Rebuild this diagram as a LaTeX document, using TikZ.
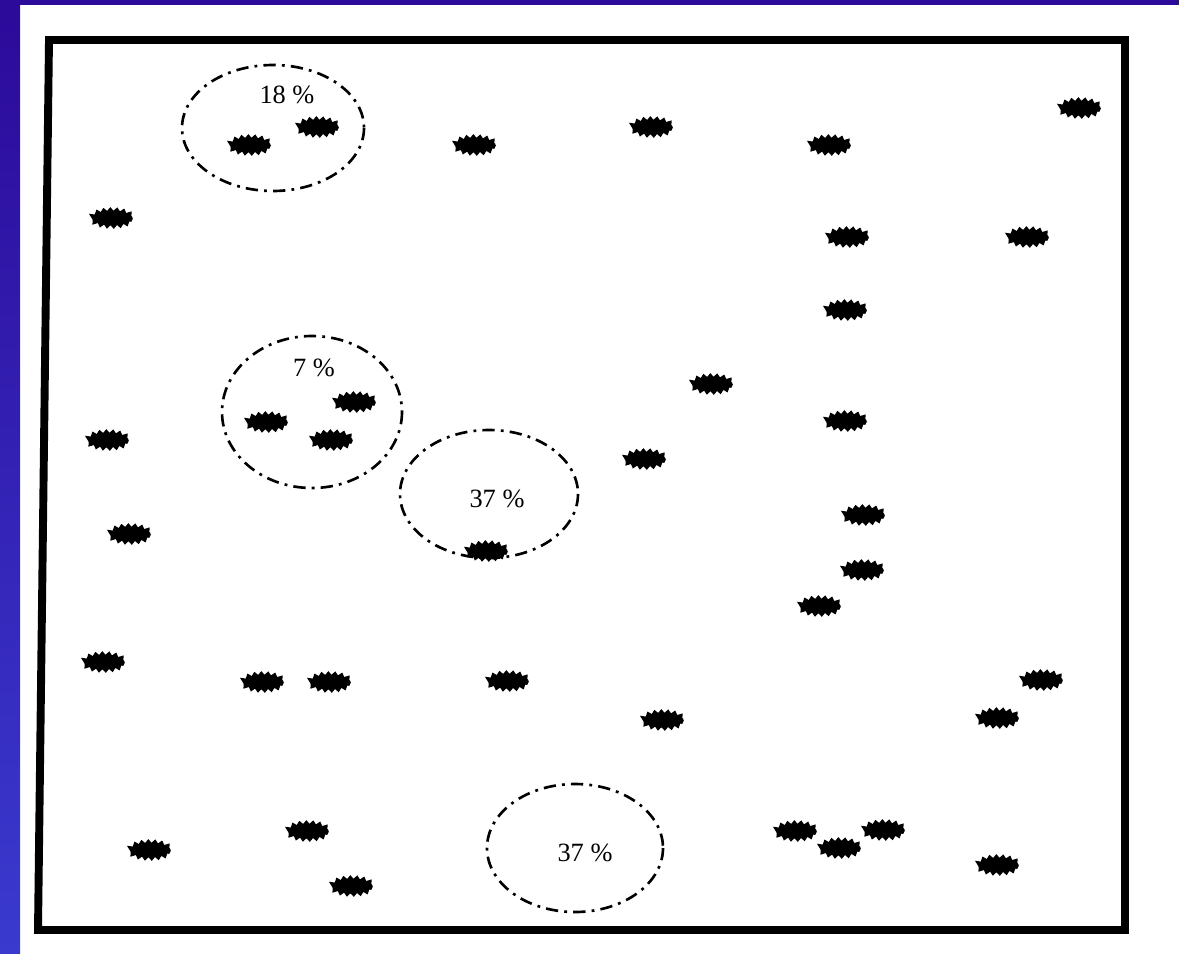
\documentclass[tikz,border=0pt]{standalone}
\usepackage{fontspec}
\setmainfont{Liberation Serif}
\usetikzlibrary{shapes.geometric, decorations.pathmorphing}
\definecolor{bTop}{HTML}{2C0A9A}
\definecolor{bBot}{HTML}{3A3ACF}

\begin{document}
\begin{tikzpicture}[x=0.02cm, y=-0.02cm,
      spot/.style={ellipse, draw, fill=black, line width=1.2pt, minimum width=0.8cm, minimum height=0.3cm, inner sep=0pt,
        decorate, decoration={zigzag, segment length=1.3mm, amplitude=0.35mm}},
      ring/.style={line width=1.5pt, dash pattern=on 7pt off 3.5pt on 1.6pt off 3.5pt},
      pct/.style={font=\fontsize{15}{18}\selectfont}]
    \useasboundingbox (0,0) rectangle (1179,953);
    \fill[white] (0,0) rectangle (1179,953);
    \shade[top color=bTop, bottom color=bBot] (0,0) rectangle (20,953);
    \fill[bTop] (0,0) rectangle (1179,5);
    % frame
    \draw[line width=4.5pt, line join=miter] (49,40) -- (1125,40) -- (1125,930) -- (38,930) -- cycle;
    % rings with shares
    \draw[ring] (273,128) ellipse (91 and 63);
    \draw[ring] (312,412) ellipse (90 and 76);
    \draw[ring] (489,494) ellipse (89 and 64);
    \draw[ring] (575,848) ellipse (88 and 64);
    \node[pct] (p18) at (287,95)  {18 \%};
    \node[pct] (p7)  at (314,368) {7 \%};
    \node[pct] (p37) at (497,499) {37 \%};
    \node[pct] (q37) at (585,853) {37 \%};
    % spots
    \foreach \x/\y [count=\i] in {250/145, 318/127, 475/145, 652/127, 830/145, 1080/108,
        112/218, 848/237, 1028/237, 846/310, 712/384, 355/402, 267/422, 332/440,
        108/440, 846/421, 645/459, 130/534, 487/551, 864/515, 863/570, 820/606,
        104/662, 263/682, 330/682, 508/681, 1042/680, 663/720, 998/718,
        308/831, 150/850, 352/886, 796/831, 884/830, 840/848, 998/865}
      \node[spot] (s\i) at (\x,\y) {};
  \end{tikzpicture}
\end{document}
